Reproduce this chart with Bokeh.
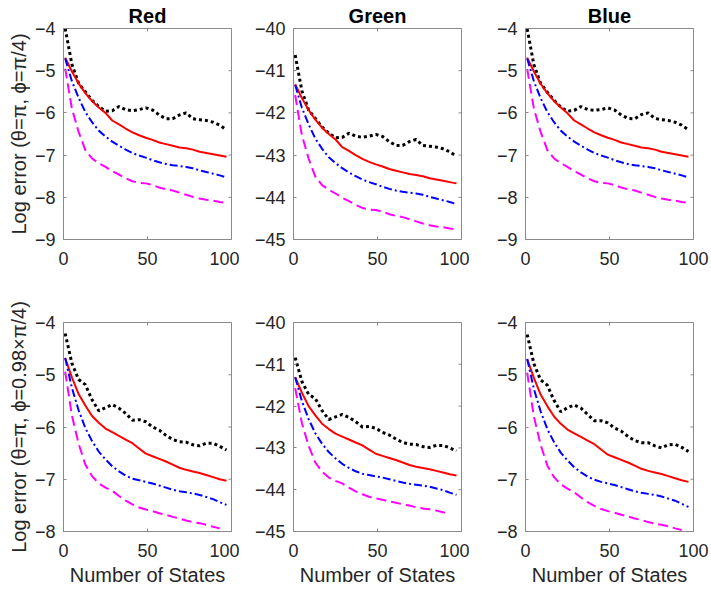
from bokeh.plotting import figure
from bokeh.layouts import column, row
from bokeh.models import LinearAxis, FixedTicker, Range1d, Title
from bokeh.embed import file_html
from bokeh.resources import INLINE

# ---------------- data ----------------
states = [1, 5, 9, 13, 17, 21, 25, 29, 33, 37, 41, 45, 49, 53, 57, 61, 65, 69, 73, 77, 81, 85, 89, 93, 97]

# Row 1 (theta=pi, phi=pi/4)
r1_k = [-4.00, -4.85, -5.30, -5.50, -5.70, -5.85, -5.96, -5.95, -5.85, -5.92, -5.95, -5.92, -5.88, -5.93, -6.05, -6.14, -6.14, -6.05, -6.00, -6.14, -6.16, -6.18, -6.22, -6.29, -6.40]
r1_r = [-4.69, -5.02, -5.30, -5.53, -5.72, -5.87, -6.00, -6.18, -6.27, -6.37, -6.46, -6.53, -6.59, -6.64, -6.70, -6.74, -6.78, -6.82, -6.84, -6.87, -6.92, -6.95, -6.98, -7.01, -7.04]
r1_b = [-4.71, -5.25, -5.64, -5.98, -6.22, -6.42, -6.56, -6.68, -6.78, -6.87, -6.95, -7.01, -7.06, -7.12, -7.17, -7.21, -7.24, -7.26, -7.28, -7.31, -7.36, -7.40, -7.44, -7.48, -7.53]
r1_m = [-4.95, -5.90, -6.45, -6.88, -7.08, -7.19, -7.28, -7.38, -7.46, -7.55, -7.62, -7.66, -7.67, -7.71, -7.77, -7.81, -7.84, -7.89, -7.94, -7.99, -8.03, -8.06, -8.08, -8.11, -8.13]

g1_k = [-40.63, -41.48, -41.93, -42.13, -42.33, -42.48, -42.59, -42.58, -42.48, -42.55, -42.58, -42.55, -42.51, -42.56, -42.68, -42.77, -42.77, -42.68, -42.63, -42.77, -42.79, -42.81, -42.85, -42.92, -43.03]
g1_r = [-41.32, -41.65, -41.93, -42.16, -42.35, -42.50, -42.63, -42.81, -42.90, -43.00, -43.09, -43.16, -43.22, -43.27, -43.33, -43.37, -43.41, -43.45, -43.47, -43.50, -43.55, -43.58, -43.61, -43.64, -43.67]
g1_b = [-41.34, -41.88, -42.27, -42.61, -42.85, -43.05, -43.19, -43.31, -43.41, -43.50, -43.58, -43.64, -43.69, -43.75, -43.80, -43.84, -43.87, -43.89, -43.91, -43.94, -43.99, -44.03, -44.07, -44.11, -44.16]
g1_m = [-41.58, -42.53, -43.08, -43.51, -43.71, -43.82, -43.91, -44.01, -44.09, -44.18, -44.25, -44.29, -44.30, -44.34, -44.40, -44.44, -44.47, -44.52, -44.57, -44.62, -44.66, -44.69, -44.71, -44.74, -44.76]

b1_k = [-4.01, -4.86, -5.30, -5.51, -5.70, -5.86, -5.96, -5.94, -5.85, -5.92, -5.94, -5.92, -5.88, -5.93, -6.05, -6.13, -6.14, -6.04, -6.00, -6.13, -6.16, -6.18, -6.22, -6.29, -6.40]
b1_r = [-4.69, -5.02, -5.31, -5.53, -5.72, -5.87, -6.01, -6.18, -6.27, -6.37, -6.46, -6.53, -6.59, -6.64, -6.70, -6.74, -6.78, -6.82, -6.84, -6.87, -6.92, -6.95, -6.98, -7.01, -7.04]
b1_b = [-4.71, -5.25, -5.65, -5.98, -6.22, -6.42, -6.56, -6.68, -6.78, -6.87, -6.95, -7.01, -7.06, -7.12, -7.17, -7.21, -7.24, -7.26, -7.28, -7.31, -7.36, -7.40, -7.44, -7.48, -7.53]
b1_m = [-4.96, -5.90, -6.45, -6.88, -7.08, -7.19, -7.28, -7.38, -7.46, -7.55, -7.62, -7.66, -7.67, -7.71, -7.77, -7.81, -7.84, -7.89, -7.94, -7.99, -8.03, -8.06, -8.08, -8.11, -8.13]

# Row 2 (theta=pi, phi=0.98 x pi/4)
r2_k = [-4.21, -4.78, -5.09, -5.19, -5.48, -5.69, -5.63, -5.57, -5.64, -5.74, -5.87, -5.86, -5.90, -6.00, -6.06, -6.16, -6.24, -6.28, -6.29, -6.34, -6.36, -6.31, -6.31, -6.37, -6.44]
r2_r = [-4.68, -5.05, -5.37, -5.59, -5.79, -5.92, -6.03, -6.10, -6.17, -6.24, -6.31, -6.41, -6.51, -6.56, -6.61, -6.66, -6.72, -6.78, -6.82, -6.85, -6.88, -6.92, -6.96, -7.00, -7.03]
r2_b = [-4.68, -5.25, -5.68, -6.02, -6.27, -6.47, -6.62, -6.75, -6.85, -6.93, -6.99, -7.02, -7.05, -7.08, -7.12, -7.16, -7.20, -7.23, -7.25, -7.27, -7.30, -7.34, -7.38, -7.44, -7.49]
r2_m = [-4.94, -5.78, -6.32, -6.72, -6.94, -7.08, -7.16, -7.22, -7.32, -7.41, -7.48, -7.54, -7.58, -7.61, -7.65, -7.68, -7.72, -7.75, -7.79, -7.82, -7.84, -7.87, -7.91, -7.94]

g2_k = [-40.84, -41.41, -41.72, -41.82, -42.11, -42.32, -42.26, -42.20, -42.27, -42.37, -42.50, -42.49, -42.53, -42.63, -42.69, -42.79, -42.87, -42.91, -42.92, -42.97, -42.99, -42.94, -42.94, -43.00, -43.07]
g2_r = [-41.31, -41.68, -42.00, -42.22, -42.42, -42.55, -42.66, -42.73, -42.80, -42.87, -42.94, -43.04, -43.14, -43.19, -43.24, -43.29, -43.35, -43.41, -43.45, -43.48, -43.51, -43.55, -43.59, -43.63, -43.66]
g2_b = [-41.31, -41.88, -42.31, -42.65, -42.90, -43.10, -43.25, -43.38, -43.48, -43.56, -43.62, -43.65, -43.68, -43.71, -43.75, -43.79, -43.83, -43.86, -43.88, -43.90, -43.93, -43.97, -44.01, -44.07, -44.12]
g2_m = [-41.57, -42.41, -42.95, -43.35, -43.57, -43.71, -43.79, -43.85, -43.95, -44.04, -44.11, -44.17, -44.21, -44.24, -44.28, -44.31, -44.35, -44.38, -44.42, -44.45, -44.47, -44.50, -44.54, -44.57]

b2_k = [-4.23, -4.79, -5.10, -5.20, -5.49, -5.71, -5.63, -5.58, -5.64, -5.76, -5.88, -5.88, -5.92, -6.02, -6.08, -6.18, -6.26, -6.30, -6.30, -6.36, -6.40, -6.34, -6.33, -6.39, -6.47]
b2_r = [-4.70, -5.06, -5.38, -5.60, -5.80, -5.94, -6.05, -6.12, -6.19, -6.26, -6.33, -6.43, -6.53, -6.58, -6.63, -6.68, -6.74, -6.80, -6.84, -6.87, -6.90, -6.94, -6.98, -7.02, -7.05]
b2_b = [-4.70, -5.27, -5.70, -6.04, -6.29, -6.49, -6.64, -6.77, -6.87, -6.95, -7.01, -7.05, -7.08, -7.11, -7.15, -7.19, -7.23, -7.26, -7.28, -7.30, -7.33, -7.37, -7.41, -7.47, -7.53]
b2_m = [-4.96, -5.80, -6.34, -6.74, -6.96, -7.10, -7.18, -7.25, -7.35, -7.44, -7.51, -7.57, -7.61, -7.64, -7.68, -7.71, -7.75, -7.78, -7.82, -7.85, -7.87, -7.90, -7.94, -7.97]

titles = ["Red", "Green", "Blue"]
ylabels = ["Log error (\u03b8=\u03c0, \u03d5=\u03c0/4)", "Log error (\u03b8=\u03c0, \u03d5=0.98\u00d7\u03c0/4)"]
xlabel = "Number of States"
x_ticks = [0, 50, 100]
yr_row1 = [(-9, -4), (-45, -40), (-9, -4)]
yr_row2 = [(-8, -4), (-45, -40), (-8, -4)]

panels = [
    [(r1_k, r1_r, r1_b, r1_m), (g1_k, g1_r, g1_b, g1_m), (b1_k, b1_r, b1_b, b1_m)],
    [(r2_k, r2_r, r2_b, r2_m), (g2_k, g2_r, g2_b, g2_m), (b2_k, b2_r, b2_b, b2_m)],
]

# ---------------- styling / layout ----------------
FONT = "Liberation Sans"
TXT = "#262626"
BOX = "#8a8a8a"
col_left = [63, 54, 56]
col_frame = [168, 168, 168]
col_right = [8, 8, 16]
row_top = [28, 46]
row_frame = [211, 210]
row_bottom = [37, 56]
TICK_PX = 3


def make_panel(ri, ci, series, yrng):
    w = col_left[ci] + col_frame[ci] + col_right[ci]
    h = row_top[ri] + row_frame[ri] + row_bottom[ri]
    p = figure(width=w, height=h, output_backend="svg", toolbar_location=None,
               x_range=Range1d(0, 100), y_range=Range1d(*yrng),
               min_border_left=col_left[ci], min_border_right=col_right[ci],
               min_border_top=row_top[ri], min_border_bottom=row_bottom[ri],
               x_axis_type=None, y_axis_type=None)
    p.grid.visible = False
    p.outline_line_color = BOX
    p.outline_line_width = 1
    p.background_fill_color = "white"
    p.border_fill_color = "white"

    yt = list(range(int(yrng[0]), int(yrng[1]) + 1))

    def style(ax):
        ax.axis_line_color = BOX
        ax.major_tick_line_color = BOX
        ax.major_tick_in = TICK_PX
        ax.major_tick_out = 0
        ax.minor_tick_line_color = None
        ax.major_label_text_font = FONT
        ax.major_label_text_font_size = "18px"
        ax.major_label_text_color = TXT
        ax.axis_label_text_font = FONT
        ax.axis_label_text_font_size = "20px"
        ax.axis_label_text_font_style = "normal"
        ax.axis_label_text_color = TXT

    xb = LinearAxis(ticker=FixedTicker(ticks=x_ticks))
    style(xb)
    xb.major_label_standoff = 12
    if ri == 1:
        xb.axis_label = xlabel
        xb.axis_label_standoff = 4
    p.add_layout(xb, "below")

    yl = LinearAxis(ticker=FixedTicker(ticks=yt))
    style(yl)
    yl.major_label_standoff = 8
    if ci == 0:
        yl.axis_label = ylabels[ri]
        yl.axis_label_standoff = 2
    p.add_layout(yl, "left")

    if ri == 0:
        t = Title(text=titles[ci], align="center", text_font=FONT, text_font_size="20px",
                  text_font_style="bold", text_color="black", standoff=3)
        p.add_layout(t, "above")

    # mirrored inward ticks on the top and right edges of the box
    dy = (yrng[1] - yrng[0]) * TICK_PX / row_frame[ri]
    dx = 100 * TICK_PX / col_frame[ci]
    p.segment(x0=x_ticks, y0=[yrng[1]] * len(x_ticks), x1=x_ticks, y1=[yrng[1] - dy] * len(x_ticks),
              line_color=BOX, line_width=1)
    p.segment(x0=[100] * len(yt), y0=yt, x1=[100 - dx] * len(yt), y1=yt,
              line_color=BOX, line_width=1)

    k, r, b, m = series
    p.line(states[:len(k)], k, line_color="black", line_width=3, line_dash="3 3")
    p.line(states[:len(r)], r, line_color="#ff0000", line_width=2)
    p.line(states[:len(b)], b, line_color="#0000ff", line_width=2, line_dash="8 3 2 3")
    p.line(states[:len(m)], m, line_color="#ff00ff", line_width=2, line_dash="10 5")
    return p


rows = []
for ri in range(2):
    yrs = yr_row1 if ri == 0 else yr_row2
    figs = [make_panel(ri, ci, panels[ri][ci], yrs[ci]) for ci in range(3)]
    rows.append(row(*figs))

layout = column(*rows)
open("out.html", "w").write(file_html(layout, INLINE))
